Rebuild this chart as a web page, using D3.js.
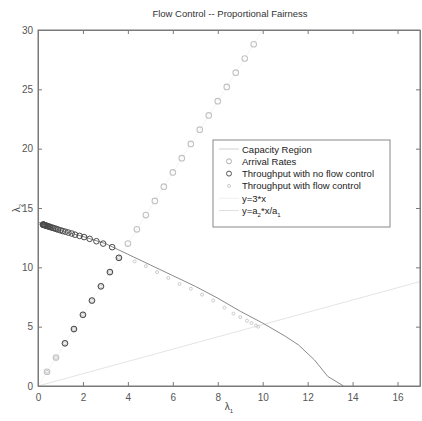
<!DOCTYPE html>
<html>
<head>
<meta charset="utf-8">
<script src="https://cdn.jsdelivr.net/npm/d3@7"></script>
<style>
  body { margin: 0; background: #fff; }
  text { font-family: "Liberation Sans", Arial, sans-serif; }
</style>
</head>
<body>
<div id="chart"></div>
<script>
// values
const arrivalX = [0.4, 0.8, 1.2, 1.6, 2.0, 2.4, 2.8, 3.2, 3.6, 4.0, 4.4, 4.8, 5.2, 5.6, 6.0, 6.4, 6.8, 7.2, 7.6, 8.0, 8.4, 8.8, 9.2, 9.6];
const arrivalY = [1.2, 2.4, 3.6, 4.8, 6.0, 7.2, 8.4, 9.6, 10.8, 12.0, 13.2, 14.4, 15.6, 16.8, 18.0, 19.2, 20.4, 21.6, 22.8, 24.0, 25.2, 26.4, 27.6, 28.8];

const capX = [0, 1, 2, 3, 4, 5, 6, 7, 8, 9, 10, 11, 11.6, 12.3, 12.9, 13.6];
const capY = [13.8, 13.1, 12.6, 12.0, 11.1, 10.2, 9.3, 8.4, 7.4, 6.3, 5.3, 4.2, 3.45, 2.2, 0.8, 0];

const noFlowX = [1.2, 1.6, 2.0, 2.4, 2.8, 3.2, 3.6, 3.3, 2.9, 2.6, 2.3, 2.05, 1.85, 1.65, 1.5, 1.35, 1.22, 1.1, 1.0, 0.9, 0.82, 0.74, 0.67, 0.6, 0.54, 0.49, 0.44, 0.4, 0.36, 0.33, 0.3, 0.28, 0.26, 0.24, 0.23, 0.22];
const noFlowY = [3.6, 4.8, 6.0, 7.2, 8.4, 9.6, 10.8, 11.7, 12.0, 12.2, 12.4, 12.55, 12.65, 12.75, 12.85, 12.93, 13.0, 13.06, 13.12, 13.18, 13.23, 13.28, 13.32, 13.36, 13.4, 13.43, 13.46, 13.49, 13.51, 13.53, 13.55, 13.57, 13.58, 13.59, 13.6, 13.6];

const flowX = [0.4, 0.8, 1.2, 1.6, 2.0, 2.4, 2.8, 3.2, 3.6, 4.3, 4.8, 5.3, 5.8, 6.3, 6.8, 7.3, 7.8, 8.3, 8.7, 9.0, 9.3, 9.5, 9.7, 9.8];
const flowY = [1.2, 2.4, 3.6, 4.8, 6.0, 7.2, 8.4, 9.6, 10.8, 10.5, 10.1, 9.6, 9.1, 8.6, 8.2, 7.7, 7.2, 6.6, 6.1, 5.8, 5.5, 5.3, 5.1, 5.0];

const line3X = [0, 10];
const line3Y = [0, 30];
const ratioX = [0, 17];
const ratioY = [0, 8.8];

const xTicks = [0, 2, 4, 6, 8, 10, 12, 14, 16];
const yTicks = [0, 5, 10, 15, 20, 25, 30];

const legendLabels = ["Capacity Region", "Arrival Rates", "Throughput with no flow control", "Throughput with flow control", "y=3*x", "y=a2*x/a1"];

const W = 422, H = 421;
const margin = {top: 30, right: 2, bottom: 35, left: 38};

const svg = d3.select("#chart").append("svg")
    .attr("width", W)
    .attr("height", H);

const x = d3.scaleLinear().domain([0, 17]).range([margin.left, W - margin.right]);
const y = d3.scaleLinear().domain([0, 30]).range([H - margin.bottom, margin.top]);

svg.append("defs").append("clipPath").attr("id", "clip")
  .append("rect")
    .attr("x", margin.left).attr("y", margin.top)
    .attr("width", x.range()[1] - margin.left)
    .attr("height", y.range()[0] - margin.top);

const plot = svg.append("g").attr("clip-path", "url(#clip)");

const pairs = (xs, ys) => xs.map((v, i) => [v, ys[i]]);
const line = d3.line().x(d => x(d[0])).y(d => y(d[1]));

// lines
plot.append("path").datum(pairs(line3X, line3Y))
    .attr("d", line).attr("fill", "none").attr("stroke", "#f4f4f4").attr("stroke-width", 1);
plot.append("path").datum(pairs(ratioX, ratioY))
    .attr("d", line).attr("fill", "none").attr("stroke", "#e4e4e4").attr("stroke-width", 1);
plot.append("path").datum(pairs(capX, capY))
    .attr("d", line).attr("fill", "none").attr("stroke", "#8a8a8a").attr("stroke-width", 1);

// markers
plot.append("g").selectAll("circle")
    .data(pairs(arrivalX, arrivalY))
    .join("circle")
    .attr("cx", d => x(d[0])).attr("cy", d => y(d[1])).attr("r", 2.8)
    .attr("fill", "none").attr("stroke", "#c2c2c2").attr("stroke-width", 1.1);

plot.append("g").selectAll("circle")
    .data(pairs(noFlowX, noFlowY))
    .join("circle")
    .attr("cx", d => x(d[0])).attr("cy", d => y(d[1])).attr("r", 2.8)
    .attr("fill", "none").attr("stroke", "#4a4a4a").attr("stroke-width", 1);

plot.append("g").selectAll("circle")
    .data(pairs(flowX, flowY))
    .join("circle")
    .attr("cx", d => x(d[0])).attr("cy", d => y(d[1])).attr("r", 1.5)
    .attr("fill", "none").attr("stroke", "#cccccc").attr("stroke-width", 1);

// axes box
const axisColor = "#7a7a7a";
svg.append("rect")
    .attr("x", margin.left).attr("y", margin.top)
    .attr("width", x.range()[1] - margin.left)
    .attr("height", y.range()[0] - margin.top)
    .attr("fill", "none").attr("stroke", axisColor);

const xAxis = svg.append("g")
    .attr("transform", `translate(0,${y(0)})`)
    .call(d3.axisBottom(x).tickValues(xTicks).tickSizeInner(-4).tickSizeOuter(0).tickPadding(8));
const xTop = svg.append("g")
    .attr("transform", `translate(0,${y(30)})`)
    .call(d3.axisTop(x).tickValues(xTicks).tickSizeInner(-4).tickSizeOuter(0).tickFormat(""));
const yAxis = svg.append("g")
    .attr("transform", `translate(${x(0)},0)`)
    .call(d3.axisLeft(y).tickValues(yTicks).tickSizeInner(-4).tickSizeOuter(0).tickPadding(5));
const yRight = svg.append("g")
    .attr("transform", `translate(${x.range()[1]},0)`)
    .call(d3.axisRight(y).tickValues(yTicks).tickSizeInner(-4).tickSizeOuter(0).tickFormat(""));

[xAxis, xTop, yAxis, yRight].forEach(g => {
  g.select(".domain").attr("stroke", axisColor);
  g.selectAll(".tick line").attr("stroke", axisColor);
  g.selectAll("text").attr("fill", "#555").attr("font-size", 10)
    .style("font-family", "Liberation Sans, Arial, sans-serif");
});

// title and labels
svg.append("text")
    .attr("x", 230).attr("y", 17)
    .attr("text-anchor", "middle")
    .attr("font-size", 9.5).attr("fill", "#333")
    .text("Flow Control -- Proportional Fairness");

const xl = svg.append("text")
    .attr("x", x(8.5)).attr("y", 410)
    .attr("text-anchor", "middle")
    .attr("font-size", 10).attr("fill", "#444");
xl.append("tspan").text("λ");
xl.append("tspan").attr("font-size", 6).attr("dy", 3).text("1");

const yl = svg.append("text")
    .attr("transform", `translate(20,${y(15)}) rotate(-90)`)
    .attr("text-anchor", "middle")
    .attr("font-size", 10).attr("fill", "#444");
yl.append("tspan").text("λ");
yl.append("tspan").attr("font-size", 6).attr("dy", 3).text("2");

// legend
const lg = svg.append("g").attr("transform", "translate(213,140)");
lg.append("rect")
    .attr("width", 177).attr("height", 87)
    .attr("fill", "#fff").attr("stroke", "#888");

const rowY = i => 9 + i * 12.3;
const rows = lg.selectAll("g.row").data(legendLabels).join("g")
    .attr("class", "row")
    .attr("transform", (d, i) => `translate(0,${rowY(i)})`);

rows.each(function(d, i) {
  const g = d3.select(this);
  if (i === 0 || i === 4 || i === 5) {
    g.append("line").attr("x1", 6).attr("x2", 26).attr("y1", 0).attr("y2", 0)
      .attr("stroke", i === 0 ? "#d0d0d0" : (i === 4 ? "#f0f0f0" : "#e0e0e0"));
  } else if (i === 1) {
    g.append("circle").attr("cx", 16).attr("cy", 0).attr("r", 2.5)
      .attr("fill", "none").attr("stroke", "#b0b0b0");
  } else if (i === 2) {
    g.append("circle").attr("cx", 16).attr("cy", 0).attr("r", 2.5)
      .attr("fill", "none").attr("stroke", "#555");
  } else {
    g.append("circle").attr("cx", 16).attr("cy", 0).attr("r", 1.5)
      .attr("fill", "none").attr("stroke", "#ccc");
  }
  const t = g.append("text").attr("x", 29).attr("y", 3.5)
      .attr("font-size", 9.5).attr("fill", "#222");
  if (i === 5) {
    t.append("tspan").text("y=a");
    t.append("tspan").attr("font-size", 6).attr("dy", 3).text("2");
    t.append("tspan").attr("dy", -3).text("*x/a");
    t.append("tspan").attr("font-size", 6).attr("dy", 3).text("1");
  } else {
    t.text(d);
  }
});
</script>
</body>
</html>
